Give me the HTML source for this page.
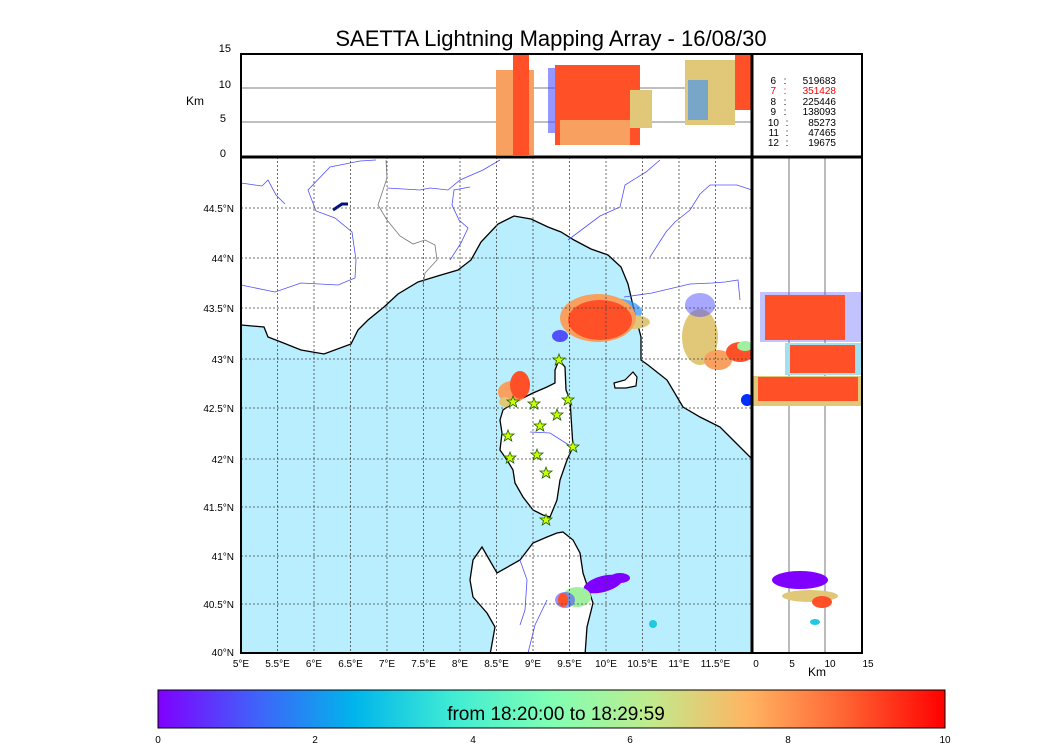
<!DOCTYPE html>
<html><head><meta charset="utf-8"><style>
html,body{margin:0;padding:0;background:#fff;width:1050px;height:750px;overflow:hidden}
svg{display:block;font-family:"Liberation Sans",sans-serif}
</style></head><body>
<svg width="1050" height="750" viewBox="0 0 1050 750">
<defs>
<linearGradient id="rb" x1="0" x2="1" y1="0" y2="0">
<stop offset="0" stop-color="#8000ff"/><stop offset="0.125" stop-color="#4062fa"/>
<stop offset="0.25" stop-color="#00b5eb"/><stop offset="0.375" stop-color="#40ecd4"/>
<stop offset="0.5" stop-color="#80ffb4"/><stop offset="0.625" stop-color="#c0eb8d"/>
<stop offset="0.75" stop-color="#ffb462"/><stop offset="0.875" stop-color="#ff6232"/>
<stop offset="1" stop-color="#ff0000"/></linearGradient>
<clipPath id="mapc"><rect x="241" y="157" width="511" height="496"/></clipPath>
</defs>
<text x="551" y="46" font-size="22" text-anchor="middle">SAETTA Lightning Mapping Array - 16/08/30</text>

<g font-size="11">
<text x="231" y="52" text-anchor="end">15</text><text x="231" y="88" text-anchor="end">10</text>
<text x="226" y="122" text-anchor="end">5</text><text x="226" y="157" text-anchor="end">0</text>
<text x="186" y="105" font-size="12">Km</text>
</g>
<line x1="241" y1="88" x2="752" y2="88" stroke="#555" stroke-width="0.8"/>
<line x1="241" y1="122" x2="752" y2="122" stroke="#555" stroke-width="0.8"/>
<g>
<rect x="496" y="70" width="38" height="85" fill="#f8a060"/>
<rect x="513" y="55" width="16" height="100" fill="#ff5028"/>
<rect x="548" y="68" width="20" height="65" fill="#5050ff" opacity="0.6"/>
<rect x="555" y="65" width="85" height="80" fill="#ff5028"/>
<rect x="630" y="90" width="22" height="38" fill="#e0c878"/>
<rect x="560" y="120" width="70" height="25" fill="#f8a060"/>
<rect x="685" y="60" width="50" height="65" fill="#e0c878"/>
<rect x="688" y="80" width="20" height="40" fill="#3090ff" opacity="0.6"/>
<rect x="735" y="55" width="17" height="55" fill="#ff5028"/>
</g>
<rect x="241" y="54" width="621" height="103" fill="none" stroke="#000" stroke-width="2"/>
<line x1="752" y1="54" x2="752" y2="157" stroke="#000" stroke-width="2"/>
<g font-size="10">
<g text-anchor="end">
<text x="776" y="84">6</text><text x="776" y="94" fill="#f00">7</text><text x="776" y="105">8</text>
<text x="776" y="115">9</text><text x="779" y="126">10</text><text x="779" y="136">11</text><text x="779" y="146">12</text>
</g>
<g text-anchor="middle">
<text x="785" y="84">:</text><text x="785" y="94" fill="#f00">:</text><text x="785" y="105">:</text>
<text x="785" y="115">:</text><text x="787" y="126">:</text><text x="787" y="136">:</text><text x="787" y="146">:</text>
</g>
<g text-anchor="end">
<text x="836" y="84">519683</text><text x="836" y="94" fill="#f00">351428</text><text x="836" y="105">225446</text>
<text x="836" y="115">138093</text><text x="836" y="126">85273</text><text x="836" y="136">47465</text><text x="836" y="146">19675</text>
</g>
</g>

<g clip-path="url(#mapc)">
<rect x="241" y="157" width="511" height="496" fill="#fff"/>
<polygon fill="#b8eefd" stroke="#000" stroke-width="1.3" points="241,325 264,327 268,337 281,342 301,350 324,354 351,344 358,330 368,320 384,307 398,294 418,282 441,275 458,270 471,260 481,242 498,224 514,216 531,219 548,227 561,232 574,240 591,249 608,255 621,267 628,284 634,310 641,337 641,360 648,365 667,380 683,407 700,417 720,427 733,440 750,457 754,460 754,655 239,655 239,325"/>
<polygon fill="#fff" stroke="#000" stroke-width="1.3" points="559,360 565,367 566,390 570,400 573,447 567,460 560,480 557,500 550,517 543,515 533,510 523,497 515,483 513,470 507,460 500,450 502,433 500,420 503,410 513,403 533,393 547,387 555,383 555,370"/>
<polygon fill="#fff" stroke="#000" stroke-width="1.3" points="563,532 573,540 580,553 583,573 593,603 587,627 585,655 490,655 495,627 487,613 473,597 470,580 473,560 482,547 497,573 520,560 533,543 547,537 557,533"/>
<polygon fill="#fff" stroke="#000" stroke-width="1.2" points="614,383 625,380 633,372 637,377 636,386 626,388 615,388"/>
<g fill="none" stroke="#5050ff" stroke-width="0.8">
<path d="M241,183 L262,186 268,180 276,195 285,204"/>
<path d="M241,285 L275,292 301,283 338,285 355,278 356,260 352,232 335,218 316,211 308,190 330,167 360,161 376,160"/>
<path d="M387,188 L420,190 430,188 448,190 460,180 483,170 500,160"/>
<path d="M450,260 L461,243 468,228 459,220 452,205 454,190 470,187"/>
<path d="M568,240 L600,216 620,207 625,185 646,172 660,160"/>
<path d="M650,257 L666,232 675,222 690,210 700,194 710,185 737,185 752,190"/>
<path d="M624,297 L652,293 690,284 712,283 725,282 738,280 740,300"/>
<path d="M530,432 L550,433 572,447"/>
<path d="M520,560 L527,580 525,610 520,625"/>
<path d="M547,600 L535,625 528,653"/>
</g>
<g fill="none" stroke="#777" stroke-width="0.8">
<path d="M386,160 L387,178 378,205 387,220 400,236 413,244 425,240 435,245 437,260 425,273 423,285"/>
</g>
<path d="M333,210 L342,204 348,204" stroke="#001080" stroke-width="3" fill="none"/>
<g>
<ellipse cx="700" cy="337" rx="18" ry="28" fill="#e0c878"/>
<ellipse cx="700" cy="305" rx="15" ry="12" fill="#5050ff" opacity="0.5"/>
<ellipse cx="718" cy="360" rx="14" ry="10" fill="#f8a060"/>
<ellipse cx="740" cy="352" rx="14" ry="10" fill="#ff5028"/>
<ellipse cx="745" cy="346" rx="8" ry="5" fill="#a0f0a0"/>
<ellipse cx="612" cy="312" rx="30" ry="14" fill="#3090ff" opacity="0.7"/>
<ellipse cx="632" cy="322" rx="18" ry="7" fill="#e0c878"/>
<ellipse cx="598" cy="318" rx="38" ry="24" fill="#f8a060"/>
<ellipse cx="600" cy="320" rx="32" ry="20" fill="#ff5028"/>
<ellipse cx="560" cy="336" rx="8" ry="6" fill="#5050ff"/>
<ellipse cx="512" cy="392" rx="14" ry="11" fill="#f8a060"/>
<ellipse cx="520" cy="385" rx="10" ry="14" fill="#ff5028"/>
<ellipse cx="505" cy="402" rx="6" ry="5" fill="#e0c878"/>
<ellipse cx="603" cy="584" rx="20" ry="8" fill="#8000ff" transform="rotate(-15 603 584)"/>
<ellipse cx="620" cy="578" rx="10" ry="5" fill="#8000ff"/>
<ellipse cx="577" cy="597" rx="14" ry="10" fill="#a0f0a0"/>
<ellipse cx="565" cy="600" rx="10" ry="8" fill="#5050ff" opacity="0.6"/>
<ellipse cx="563" cy="600" rx="5" ry="7" fill="#ff5028"/>
<ellipse cx="653" cy="624" rx="4" ry="4" fill="#20c8e0"/>
<circle cx="746" cy="400" r="5" fill="#0030ff"/>
</g>
<g stroke="#444" stroke-width="0.8" stroke-dasharray="2,2">
<line x1="277.5" y1="157" x2="277.5" y2="653"/><line x1="314" y1="157" x2="314" y2="653"/>
<line x1="350.5" y1="157" x2="350.5" y2="653"/><line x1="387" y1="157" x2="387" y2="653"/>
<line x1="423.5" y1="157" x2="423.5" y2="653"/><line x1="460" y1="157" x2="460" y2="653"/>
<line x1="496.5" y1="157" x2="496.5" y2="653"/><line x1="533" y1="157" x2="533" y2="653"/>
<line x1="569.5" y1="157" x2="569.5" y2="653"/><line x1="606" y1="157" x2="606" y2="653"/>
<line x1="642.5" y1="157" x2="642.5" y2="653"/><line x1="679" y1="157" x2="679" y2="653"/>
<line x1="715.5" y1="157" x2="715.5" y2="653"/>
<line x1="241" y1="208" x2="752" y2="208"/><line x1="241" y1="258" x2="752" y2="258"/>
<line x1="241" y1="308" x2="752" y2="308"/><line x1="241" y1="359" x2="752" y2="359"/>
<line x1="241" y1="408" x2="752" y2="408"/><line x1="241" y1="459" x2="752" y2="459"/>
<line x1="241" y1="507" x2="752" y2="507"/><line x1="241" y1="556" x2="752" y2="556"/>
<line x1="241" y1="604" x2="752" y2="604"/>
</g>
<g fill="#ccff00" stroke="#206000" stroke-width="0.8">
<path id="st" d="M0,-6 L1.5,-2 6,-2 2.5,0.8 3.8,5 0,2.5 -3.8,5 -2.5,0.8 -6,-2 -1.5,-2Z" transform="translate(559,360)"/>
<use href="#st" x="-46" y="42"/><use href="#st" x="-25" y="44"/><use href="#st" x="9" y="40"/>
<use href="#st" x="-2" y="55"/><use href="#st" x="-19" y="66"/><use href="#st" x="-51" y="76"/>
<use href="#st" x="14" y="87"/><use href="#st" x="-49" y="98"/><use href="#st" x="-22" y="95"/>
<use href="#st" x="-13" y="113"/><use href="#st" x="-13" y="160"/>
</g>
</g>

<g>
<line x1="789" y1="157" x2="789" y2="653" stroke="#555" stroke-width="0.8"/>
<line x1="825" y1="157" x2="825" y2="653" stroke="#555" stroke-width="0.8"/>
<rect x="760" y="292" width="102" height="50" fill="#5050ff" opacity="0.35"/>
<rect x="765" y="295" width="80" height="45" fill="#ff5028"/>
<rect x="785" y="343" width="77" height="32" fill="#a0e0f0"/>
<rect x="790" y="345" width="65" height="28" fill="#ff5028"/>
<rect x="753" y="376" width="109" height="30" fill="#e0c878"/>
<rect x="758" y="377" width="100" height="24" fill="#ff5028"/>
<circle cx="747" cy="400" r="6" fill="#0030ff"/>
<ellipse cx="800" cy="580" rx="28" ry="9" fill="#8000ff"/>
<ellipse cx="810" cy="596" rx="28" ry="6" fill="#e0c878"/>
<ellipse cx="822" cy="602" rx="10" ry="6" fill="#ff5028"/>
<ellipse cx="815" cy="622" rx="5" ry="3" fill="#20c8e0"/>
</g>
<rect x="241" y="157" width="621" height="496" fill="none" stroke="#000" stroke-width="2"/>
<line x1="752" y1="54" x2="752" y2="653" stroke="#000" stroke-width="3"/>
<line x1="241" y1="157" x2="862" y2="157" stroke="#000" stroke-width="3"/>

<g font-size="10" text-anchor="end">
<text x="234" y="212">44.5°N</text><text x="234" y="262">44°N</text>
<text x="234" y="312">43.5°N</text><text x="234" y="363">43°N</text>
<text x="234" y="412">42.5°N</text><text x="234" y="463">42°N</text>
<text x="234" y="511">41.5°N</text><text x="234" y="560">41°N</text>
<text x="234" y="608">40.5°N</text><text x="234" y="656">40°N</text>
</g>
<g font-size="10" text-anchor="middle">
<text x="241" y="667">5°E</text><text x="277.5" y="667">5.5°E</text><text x="314" y="667">6°E</text>
<text x="350.5" y="667">6.5°E</text><text x="387" y="667">7°E</text><text x="423.5" y="667">7.5°E</text>
<text x="460" y="667">8°E</text><text x="496.5" y="667">8.5°E</text><text x="533" y="667">9°E</text>
<text x="569.5" y="667">9.5°E</text><text x="606" y="667">10°E</text><text x="642.5" y="667">10.5°E</text>
<text x="679" y="667">11°E</text><text x="715.5" y="667">11.5°E</text>
<text x="756" y="667">0</text><text x="792" y="667">5</text><text x="830" y="667">10</text><text x="868" y="667">15</text>
</g>
<text x="817" y="676" font-size="12" text-anchor="middle">Km</text>

<rect x="158" y="690" width="787" height="38" fill="url(#rb)" stroke="#000" stroke-width="1"/>
<text x="556" y="720" font-size="19" text-anchor="middle">from 18:20:00 to 18:29:59</text>
<g font-size="10" text-anchor="middle">
<text x="158" y="743">0</text><text x="315" y="743">2</text><text x="473" y="743">4</text>
<text x="630" y="743">6</text><text x="788" y="743">8</text><text x="945" y="743">10</text>
</g>
</svg>
</body></html>
